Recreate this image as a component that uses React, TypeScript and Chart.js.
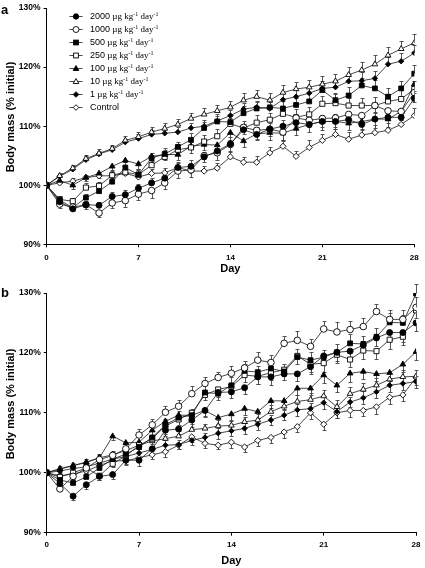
import React, { useEffect, useRef } from "react";
import { Chart, registerables } from "chart.js";

Chart.register(...registerables);

const SANS = '"Liberation Sans", Arial, sans-serif';
const SERIF = '"Liberation Serif", "Times New Roman", serif';

// ---- data ----
const DAYS = [0,1,2,3,4,5,6,7,8,9,10,11,12,13,14,15,16,17,18,19,20,21,22,23,24,25,26,27,28];
const X_TICKS = [0, 7, 14, 21, 28];
const Y_TICKS = [90, 100, 110, 120, 130];
const DOSES = ["2000", "1000", "500", "250", "100", "10", "1", "Control"];

// Panel a
const A_2000 = [100,97.2,96.0,96.7,96.6,98.1,98.4,99.5,100.4,101.2,103.0,103.2,104.8,105.8,107.0,109.4,108.6,109.5,110.0,110.6,110.3,110.8,110.8,111.1,110.3,111.2,111.5,111.5,114.7];
const A_1000 = [100,96.8,96.3,96.7,95.3,97.0,97.4,98.5,99.1,100.4,102.4,102.6,105.0,105.5,106.9,109.8,109.3,109.5,109.0,111.4,111.0,111.3,111.4,112.0,111.8,113.5,112.6,112.5,115.7];
const A_500 = [100,97.5,96.2,97.9,99.0,100.6,103.0,101.8,104.6,105.3,106.5,107.7,109.7,110.8,110.7,112.2,113.0,113.2,113.0,113.6,114.2,116.1,114.4,115.2,116.9,116.4,115.0,116.4,118.9];
const A_250 = [100,97.6,97.3,99.6,99.9,101.7,102.2,101.8,103.4,104.8,106.0,106.4,107.4,108.3,110.4,109.7,110.6,111.1,112.1,111.5,112.0,113.8,113.9,113.5,113.5,113.5,114.2,114.6,116.3];
const A_100 = [100,100.8,100.0,101.3,102.0,103.2,104.2,103.6,104.9,105.2,105.2,106.6,106.9,106.8,108.9,107.5,108.7,108.9,108.8,109.6,110.3,110.8,110.8,110.5,110.8,111.2,111.2,112.5,117.1];
const A_10 = [100,101.6,102.9,104.5,105.4,106.2,107.6,108.2,109.0,109.6,110.3,111.3,112.0,112.6,113.2,114.4,115.0,114.4,115.7,116.3,116.6,117.1,117.6,118.7,119.5,120.5,122.0,123.1,124.1];
const A_1 = [100,101.5,102.7,104.3,105.3,106.0,107.3,107.9,108.6,108.8,109.0,109.7,110.0,110.9,111.8,112.9,113.2,113.0,114.5,115.0,115.6,116.4,116.6,117.6,117.7,118.1,120.5,121.0,122.4];
const A_C = [100,100.4,100.7,101.3,101.6,101.6,102.0,101.4,102.0,102.1,103.0,102.4,102.4,102.9,104.8,103.9,103.9,105.5,106.6,104.9,106.4,107.6,108.6,107.8,108.5,108.9,109.3,110.3,111.8];

const EA_2000 = [0,0.6,0.5,0.7,0.6,0.7,0.8,0.7,0.8,0.9,0.8,1.0,0.9,1.0,1.1,1.0,1.2,1.1,1.1,1.2,1.3,1.1,1.2,1.3,1.4,1.2,1.3,1.4,1.3];
const EA_1000 = [0,0.6,0.7,0.8,0.6,0.9,1.1,1.0,1.2,1.0,1.1,1.2,1.0,1.3,1.2,1.1,1.4,1.2,1.3,1.3,1.2,1.4,1.5,1.3,1.4,1.3,1.5,1.4,1.6];
const EA_500 = [0,0.5,0.6,0.7,0.8,0.7,0.9,0.8,0.9,1.0,0.9,1.1,1.0,1.2,1.1,1.2,1.1,1.3,1.2,1.2,1.4,1.3,1.2,1.4,1.3,1.4,1.5,1.3,1.5];
const EA_250 = [0,0.6,0.6,0.8,0.7,0.9,0.8,1.0,0.9,1.1,1.0,0.9,1.1,1.2,1.0,1.2,1.3,1.1,1.2,1.4,1.2,1.3,1.5,1.3,1.2,1.4,1.3,1.5,1.4];
const EA_100 = [0,0.5,0.6,0.5,0.7,0.8,0.7,0.9,0.8,1.0,0.9,1.1,0.9,1.0,1.2,1.1,1.0,1.2,1.3,1.1,1.2,1.4,1.3,1.2,1.4,1.5,1.3,1.4,1.5];
const EA_10 = [0,0.5,0.6,0.6,0.7,0.7,0.8,0.9,0.8,1.0,0.9,1.0,1.1,1.0,1.1,1.2,1.1,1.3,1.2,1.2,1.3,1.4,1.3,1.4,1.3,1.5,1.4,1.3,1.5];
const EA_1 = [0,0.4,0.5,0.6,0.5,0.7,0.6,0.8,0.7,0.8,0.9,0.8,1.0,0.9,1.0,1.1,1.0,1.1,1.2,1.1,1.2,1.3,1.2,1.3,1.4,1.3,1.2,1.4,1.3];
const EA_C = [0,0.4,0.5,0.5,0.6,0.7,0.6,0.8,0.7,0.8,0.9,0.7,0.9,0.8,1.0,0.9,1.1,1.0,1.1,0.9,1.2,1.1,1.0,1.2,1.1,1.3,1.2,1.1,1.3];

// Panel b
const B_2000 = [100,98.2,96.1,98.0,99.4,99.7,102.1,102.1,104.0,107.1,107.3,108.8,110.4,113.4,113.5,114.2,116.0,116.0,116.5,116.5,117.7,119.5,120.1,120.3,121.3,122.5,123.4,123.4,125.0];
const B_1000 = [100,97.3,99.4,100.8,102.2,102.9,104.0,106.3,108.0,110.1,111.1,113.2,114.9,115.9,116.6,117.5,118.8,118.4,121.6,122.1,121.1,124.0,123.5,123.9,124.4,126.9,125.6,125.6,127.6];
const B_500 = [100,98.8,98.3,99.3,100.8,102.3,103.1,104.3,105.9,108.0,109.2,109.6,113.4,113.2,114.6,117.0,116.8,117.4,116.9,119.3,118.8,119.3,120.1,121.6,121.5,122.7,125.1,125.0,129.9];
const B_250 = [100,99.3,100.0,100.8,99.5,101.5,102.8,104.6,105.7,107.8,108.9,110.0,113.0,113.9,114.4,116.3,116.1,116.7,117.2,119.5,118.1,118.3,119.7,118.9,120.4,120.3,122.2,122.7,127.1];
const B_100 = [100,100.6,101.2,101.7,102.5,106.1,105.0,105.1,107.1,108.6,109.6,109.6,110.4,109.2,109.8,110.7,110.2,112.0,112.0,114.1,114.1,116.3,114.6,116.6,116.9,116.5,116.7,118.1,120.2];
const B_10 = [100,100.7,101.2,101.8,102.5,103.0,103.7,104.6,105.3,105.7,106.1,107.2,107.4,107.8,107.9,108.5,108.8,110.2,111.1,111.9,112.2,112.8,111.0,113.2,113.9,114.6,115.6,116.0,116.1];
const B_1 = [100,100.3,100.7,101.0,101.6,102.3,102.7,103.3,103.9,104.6,104.7,105.4,105.9,106.6,107.0,107.4,108.1,108.8,109.6,110.5,110.7,111.7,110.2,111.8,112.5,113.5,114.6,114.9,115.2];
const B_C = [100,99.5,99.8,100.3,101.2,102.0,102.0,102.5,103.0,103.5,104.6,106.0,104.9,104.6,105.1,104.3,105.4,105.9,106.8,107.7,110.0,108.1,110.0,110.4,110.4,111.0,112.6,113.0,115.9];

const EB_2000 = [0,0.5,0.6,0.7,0.6,0.8,0.7,0.9,0.8,1.0,0.9,1.1,1.0,1.2,1.1,1.0,1.2,1.3,1.1,1.2,1.3,1.2,1.4,1.3,1.2,1.4,1.3,1.5,1.4];
const EB_1000 = [0,0.6,0.7,0.6,0.8,0.7,0.9,1.0,0.9,1.1,1.0,1.2,1.1,1.0,1.3,1.2,1.4,1.3,1.2,1.5,1.3,1.4,1.6,1.5,1.4,1.3,1.6,1.5,1.7];
const EB_500 = [0,0.5,0.6,0.7,0.6,0.8,0.9,0.8,1.0,0.9,1.1,1.0,1.2,1.1,1.3,1.2,1.1,1.3,1.2,1.4,1.3,1.2,1.4,1.5,1.3,1.4,1.5,1.4,1.6];
const EB_250 = [0,0.5,0.5,0.6,0.7,0.6,0.8,0.7,0.9,0.8,1.0,1.1,0.9,1.2,1.0,1.1,1.3,1.2,1.1,1.3,1.2,1.4,1.3,1.2,1.4,1.3,1.5,1.4,1.3];
const EB_100 = [0,0.4,0.5,0.6,0.5,0.7,0.8,0.7,0.9,0.8,1.0,0.9,1.1,1.0,1.2,1.1,1.0,1.2,1.3,1.1,1.2,1.3,1.2,1.4,1.3,1.2,1.4,1.3,1.4];
const EB_10 = [0,0.4,0.5,0.5,0.6,0.5,0.7,0.6,0.8,0.7,0.8,0.9,0.8,1.0,0.9,0.8,1.0,1.1,0.9,1.0,1.1,1.0,1.2,1.1,1.0,1.2,1.1,1.2,1.1];
const EB_1 = [0,0.4,0.4,0.5,0.6,0.5,0.6,0.7,0.6,0.8,0.7,0.8,0.7,0.9,0.8,0.9,1.0,0.9,0.8,1.0,0.9,1.1,1.0,0.9,1.1,1.0,1.2,1.1,1.0];
const EB_C = [0,0.4,0.5,0.4,0.6,0.5,0.7,0.6,0.7,0.8,0.7,0.9,0.8,0.7,0.9,0.8,1.0,0.9,1.0,0.9,1.1,1.0,0.9,1.1,1.0,1.2,1.1,1.0,1.2];

const PANEL_A_VALUES = [A_2000, A_1000, A_500, A_250, A_100, A_10, A_1, A_C];
const PANEL_A_ERRORS = [EA_2000, EA_1000, EA_500, EA_250, EA_100, EA_10, EA_1, EA_C];
const PANEL_B_VALUES = [B_2000, B_1000, B_500, B_250, B_100, B_10, B_1, B_C];
const PANEL_B_ERRORS = [EB_2000, EB_1000, EB_500, EB_250, EB_100, EB_10, EB_1, EB_C];

const PANEL_A_ERR_DIR = ["up", "down", "up", "up", "down", "up", "up", "up"];
const PANEL_B_ERR_DIR = ["down", "up", "up", "down", "down", "up", "both", "down"];

// ---- styles ----
type MarkerStyle = { shape: string; fill: string; radius: number };
const MARKERS: MarkerStyle[] = [
  { shape: "circle", fill: "#000", radius: 3 },
  { shape: "circle", fill: "#fff", radius: 3.3 },
  { shape: "rect", fill: "#000", radius: 3.4 },
  { shape: "rect", fill: "#fff", radius: 3.6 },
  { shape: "triangle", fill: "#000", radius: 3.3 },
  { shape: "triangle", fill: "#fff", radius: 3.3 },
  { shape: "rectRot", fill: "#000", radius: 2.7 },
  { shape: "rectRot", fill: "#fff", radius: 3.1 },
];

const seriesLabel = (d: string) => (d === "Control" ? d : `${d} µg kg⁻¹ day⁻¹`);

const errorBarPlugin = {
  id: "errorBars",
  beforeDatasetsDraw(chart: any) {
    const ctx = chart.ctx;
    const ys = chart.scales.y;
    ctx.save();
    ctx.strokeStyle = "#444";
    ctx.lineWidth = 0.9;
    chart.data.datasets.forEach((ds: any, i: number) => {
      const meta = chart.getDatasetMeta(i);
      meta.data.forEach((pt: any, j: number) => {
        const e = ds.errors[j];
        if (!e) return;
        const v = ds.data[j].y;
        const px = Math.round(pt.x) + 0.5;
        const draw = (val: number) => {
          const ey = Math.round(ys.getPixelForValue(val)) + 0.5;
          ctx.beginPath();
          ctx.moveTo(px, pt.y);
          ctx.lineTo(px, ey);
          ctx.moveTo(px - 2, ey);
          ctx.lineTo(px + 2, ey);
          ctx.stroke();
        };
        if (ds.errDir !== "down") draw(v + e);
        if (ds.errDir !== "up") draw(v - e);
      });
    });
    ctx.restore();
  },
};

type Geom = {
  padTop: number;
  padRight: number;
  xAxisHeight: number;
  yAxisWidth: number;
  titlePadBottom: number;
  tickPad: number;
};

function buildConfig(values: number[][], errors: number[][], dirs: string[], g: Geom): any {
  const datasets = values.map((vals, i) => ({
    label: seriesLabel(DOSES[i]),
    data: vals.map((v, j) => ({ x: DAYS[j], y: v })),
    errors: errors[i],
    errDir: dirs[i],
    borderColor: "#1a1a1a",
    borderWidth: 0.8,
    pointStyle: MARKERS[i].shape,
    pointRadius: MARKERS[i].radius,
    pointBackgroundColor: MARKERS[i].fill,
    pointBorderColor: "#000",
    pointBorderWidth: 0.9,
    tension: 0,
    fill: false,
  }));
  return {
    type: "line",
    data: { datasets },
    options: {
      animation: false,
      responsive: false,
      events: [],
      layout: { padding: { top: g.padTop, right: g.padRight, left: 0, bottom: 0 } },
      plugins: { legend: { display: false }, tooltip: { enabled: false } },
      scales: {
        x: {
          type: "linear",
          min: 0,
          max: 28,
          afterBuildTicks: (s: any) => {
            s.ticks = X_TICKS.map((v) => ({ value: v }));
          },
          afterFit: (s: any) => {
            s.height = g.xAxisHeight;
          },
          ticks: {
            color: "#000",
            padding: g.tickPad,
            font: { family: SANS, size: 8, weight: "bold" },
            maxRotation: 0,
          },
          grid: { display: true, drawOnChartArea: false, drawTicks: true, tickLength: 3, color: "#000", lineWidth: 1 },
          border: { display: true, color: "#000", width: 1 },
          title: {
            display: true,
            text: "Day",
            color: "#000",
            font: { family: SANS, size: 11, weight: "bold" },
            padding: { top: 0, bottom: g.titlePadBottom },
          },
        },
        y: {
          type: "linear",
          min: 90,
          max: 130,
          afterBuildTicks: (s: any) => {
            s.ticks = Y_TICKS.map((v) => ({ value: v }));
          },
          afterFit: (s: any) => {
            s.width = g.yAxisWidth;
          },
          ticks: {
            color: "#000",
            padding: 3,
            font: { family: SANS, size: 8.5, weight: "bold" },
            callback: (v: any) => `${v}%`,
          },
          grid: { display: true, drawOnChartArea: false, drawTicks: true, tickLength: 3, color: "#000", lineWidth: 1 },
          border: { display: true, color: "#000", width: 1 },
        },
      },
    },
    plugins: [errorBarPlugin],
  };
}

function Panel(props: { top: number; values: number[][]; errors: number[][]; dirs: string[]; geom: Geom }) {
  const ref = useRef<HTMLCanvasElement>(null);
  useEffect(() => {
    if (!ref.current) return;
    const chart = new Chart(ref.current, buildConfig(props.values, props.errors, props.dirs, props.geom));
    return () => chart.destroy();
  }, []);
  return (
    <canvas
      ref={ref}
      width={425}
      height={284}
      style={{ position: "absolute", left: 0, top: props.top, width: 425, height: 284 }}
    />
  );
}

function LegendMarker({ m }: { m: MarkerStyle }) {
  const cx = 7, cy = 4.5;
  let shape: any = null;
  if (m.shape === "circle") shape = <circle cx={cx} cy={cy} r={m.radius - 0.3} fill={m.fill} stroke="#000" strokeWidth={0.9} />;
  else if (m.shape === "rect") shape = <rect x={cx - 2.4} y={cy - 2.4} width={4.8} height={4.8} fill={m.fill} stroke="#000" strokeWidth={0.9} />;
  else if (m.shape === "triangle") shape = <polygon points={`${cx},${cy - 3} ${cx + 2.8},${cy + 2} ${cx - 2.8},${cy + 2}`} fill={m.fill} stroke="#000" strokeWidth={0.9} />;
  else shape = <polygon points={`${cx},${cy - 2.8} ${cx + 2.8},${cy} ${cx},${cy + 2.8} ${cx - 2.8},${cy}`} fill={m.fill} stroke="#000" strokeWidth={0.9} />;
  return (
    <svg width={14} height={9} style={{ position: "absolute", left: 0, top: 0 }}>
      <line x1={0.5} y1={cy} x2={13.5} y2={cy} stroke="#1a1a1a" strokeWidth={0.8} />
      {shape}
    </svg>
  );
}

function Legend() {
  return (
    <>
      {DOSES.map((d, i) => (
        <div key={d} style={{ position: "absolute", left: 69, top: 11.5 + i * 13.1, height: 9, width: 120 }}>
          <LegendMarker m={MARKERS[i]} />
          <div style={{ position: "absolute", left: 21, top: -1, whiteSpace: "nowrap", fontSize: 9, lineHeight: "11px", color: "#000" }}>
            <span style={{ fontFamily: SANS }}>{d}</span>
            {d !== "Control" && (
              <span style={{ fontFamily: SERIF }}>
                {" µg kg"}
                <sup style={{ fontSize: 6, verticalAlign: "3px", lineHeight: 0 }}>-1</sup>
                {" day"}
                <sup style={{ fontSize: 6, verticalAlign: "3px", lineHeight: 0 }}>-1</sup>
              </span>
            )}
          </div>
        </div>
      ))}
    </>
  );
}

const yTitleStyle = (cy: number): React.CSSProperties => ({
  position: "absolute",
  left: 9.5,
  top: cy,
  transform: "translate(-50%, -50%) rotate(-90deg)",
  whiteSpace: "nowrap",
  fontFamily: SANS,
  fontWeight: "bold",
  fontSize: 11,
  lineHeight: "13px",
  color: "#000",
});

const letterStyle = (top: number): React.CSSProperties => ({
  position: "absolute",
  left: 1,
  top,
  fontFamily: SANS,
  fontWeight: "bold",
  fontSize: 13,
  lineHeight: "15px",
  color: "#000",
});

export default function App() {
  return (
    <div style={{ position: "absolute", left: 0, top: 0, width: 425, height: 568, background: "#fff", overflow: "hidden" }}>
      <Panel
        top={0}
        values={PANEL_A_VALUES}
        errors={PANEL_A_ERRORS}
        dirs={PANEL_A_ERR_DIR}
        geom={{ padTop: 7.3, padRight: 10.7, xAxisHeight: 39.7, yAxisWidth: 46.5, titlePadBottom: 8.4, tickPad: 6 }}
      />
      <Panel
        top={284}
        values={PANEL_B_VALUES}
        errors={PANEL_B_ERRORS}
        dirs={PANEL_B_ERR_DIR}
        geom={{ padTop: 9, padRight: 5.7, xAxisHeight: 35.3, yAxisWidth: 46.7, titlePadBottom: 0.4, tickPad: 4.5 }}
      />
      <Legend />
      <div style={yTitleStyle(116.5)}>Body mass (% initial)</div>
      <div style={yTitleStyle(403.5)}>Body mass (% initial)</div>
      <div style={letterStyle(2)}>a</div>
      <div style={letterStyle(284.5)}>b</div>
    </div>
  );
}
